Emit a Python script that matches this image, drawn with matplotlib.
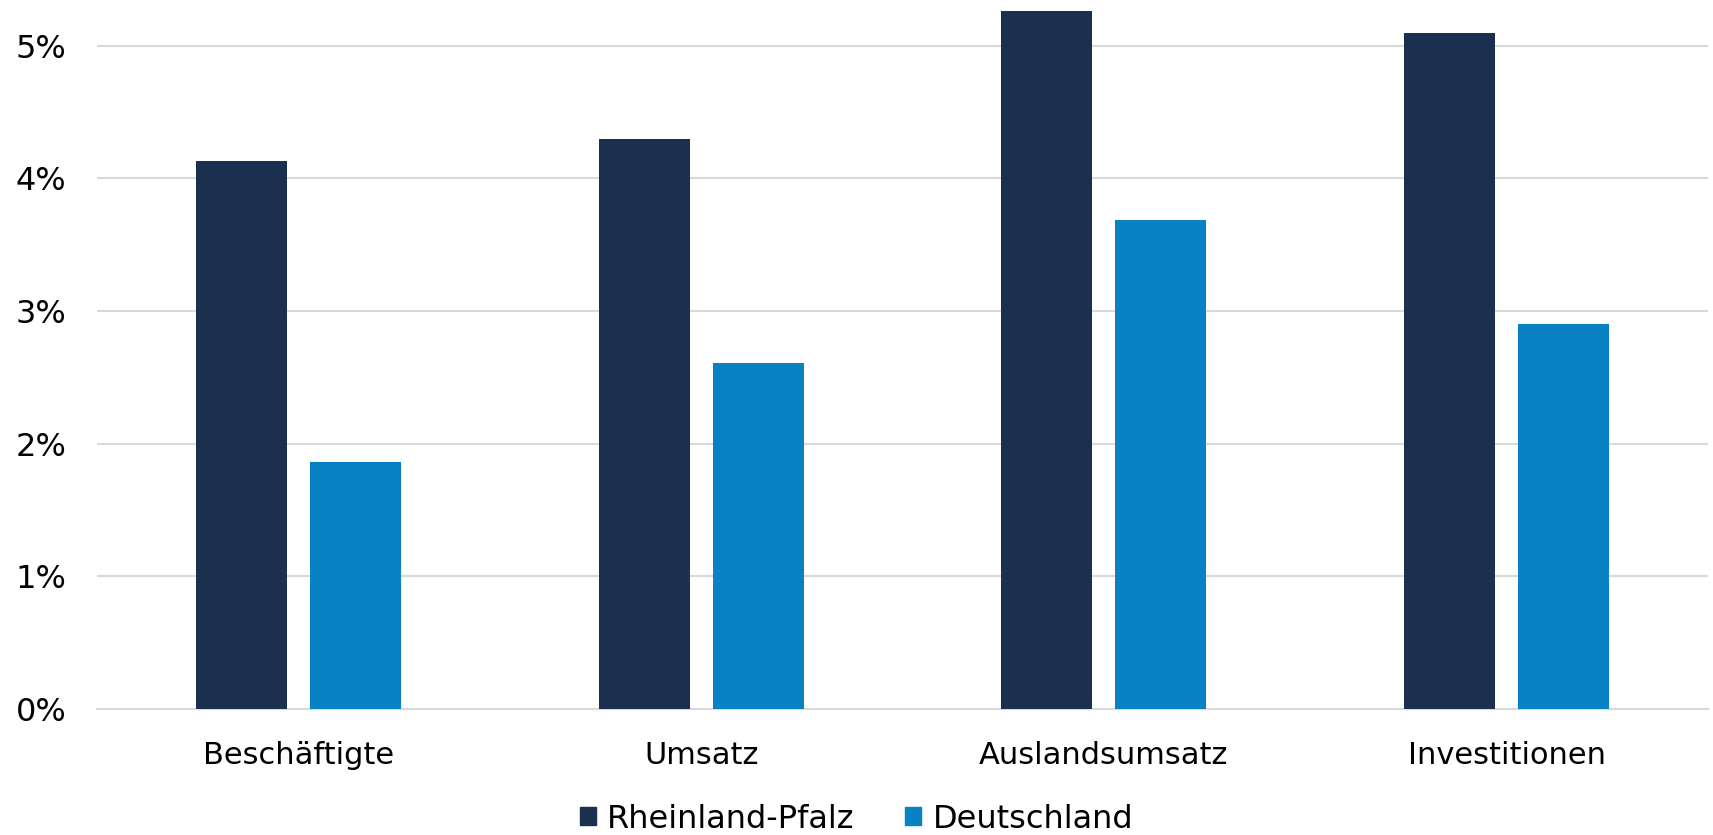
import numpy as np
import matplotlib.pyplot as plt
from matplotlib.patches import Patch

categories = ['Beschäftigte', 'Umsatz', 'Auslandsumsatz', 'Investitionen']
rheinland_pfalz = [4.13, 4.30, 5.26, 5.10]
deutschland = [1.86, 2.61, 3.69, 2.90]
series_names = ['Rheinland-Pfalz', 'Deutschland']
colors = ['#1B2F4E', '#0882C4']
y_ticks = [0, 1, 2, 3, 4, 5]

plt.rcParams['font.family'] = 'DejaVu Sans'

fig = plt.figure(figsize=(17.13, 8.35), dpi=100)
ax = fig.add_axes([97 / 1713, 1 - 709 / 835, 1611 / 1713, 703 / 835])

x = np.arange(len(categories))
w = 0.226
off = 0.1415
ax.bar(x - off, rheinland_pfalz, w, color=colors[0], zorder=3)
ax.bar(x + off, deutschland, w, color=colors[1], zorder=3)

ax.set_xlim(-0.5, len(categories) - 0.5)
ax.set_ylim(0, 5.3)
ax.set_yticks(y_ticks)
ax.set_yticklabels([f'{t}%' for t in y_ticks])
ax.set_xticks(x)
ax.set_xticklabels(categories)
ax.tick_params(axis='y', length=0, pad=22, labelsize=23)
ax.tick_params(axis='x', length=0, pad=23, labelsize=22)
ax.grid(axis='y', color='#D9D9D9', linewidth=1.5, zorder=0)
for s in ['top', 'right', 'left']:
    ax.spines[s].set_visible(False)
ax.spines['bottom'].set_color('#D9D9D9')
ax.spines['bottom'].set_linewidth(1.5)

handles = [Patch(color=c, label=n) for c, n in zip(colors, series_names)]
fig.legend(handles=handles, loc='center', bbox_to_anchor=(0.5, 1 - 819 / 835),
           ncol=2, frameon=False, fontsize=23, handlelength=0.5, handleheight=0.5,
           handletextpad=0.35, columnspacing=1.6)

fig.savefig('out.png', dpi=100)
